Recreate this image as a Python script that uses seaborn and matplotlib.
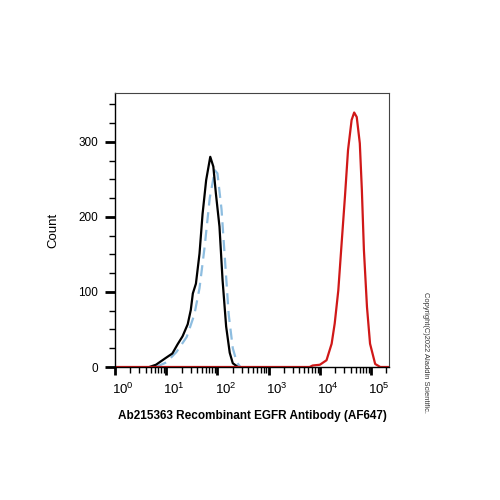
import numpy as np
import seaborn as sns
import matplotlib.pyplot as plt
import matplotlib.ticker as mticker
from matplotlib.transforms import ScaledTranslation

# curves, x as log10 of fluorescence, y as count
black_log = [0.67, 0.80, 0.99, 1.12, 1.22, 1.32, 1.42, 1.48, 1.52, 1.58, 1.65, 1.71, 1.78, 1.86,
             1.92, 1.97, 2.04, 2.10, 2.17, 2.24, 2.30, 2.40]
black_count = [0, 3, 12, 18, 30, 41, 57, 76, 98, 111, 151, 204, 249, 280,
               267, 231, 187, 116, 54, 19, 5, 0]

blue_log = [0.80, 1.00, 1.20, 1.40, 1.55, 1.65, 1.75, 1.85, 1.95, 2.00, 2.08, 2.15, 2.22, 2.30, 2.38, 2.45]
blue_count = [0, 6, 20, 40, 70, 105, 160, 225, 262, 258, 210, 140, 70, 25, 6, 0]

red_log = [0.0, 3.80, 3.86, 4.00, 4.13, 4.23, 4.29, 4.36, 4.42, 4.49, 4.55, 4.62, 4.67, 4.72,
           4.78, 4.82, 4.86, 4.92, 4.98, 5.08, 5.18, 5.35]
red_count = [0, 0, 2, 3, 9, 31, 58, 102, 160, 227, 289, 329, 339, 333,
             298, 236, 156, 80, 31, 4, 0, 0]

plt.rcParams['font.family'] = ['Liberation Sans', 'DejaVu Sans']
plt.rcParams['mathtext.fontset'] = 'custom'
plt.rcParams['mathtext.rm'] = 'Liberation Sans'

fig = plt.figure(figsize=(5, 5), dpi=100)
ax = fig.add_axes([0.23, 0.266, 0.548, 0.548])

sns.lineplot(x=10 ** np.array(blue_log), y=blue_count, sort=False, ax=ax,
             color="#8dbde0", linewidth=1.6, linestyle=(0, (5, 3)))
sns.lineplot(x=10 ** np.array(black_log), y=black_count, sort=False, ax=ax,
             color="black", linewidth=1.6)
sns.lineplot(x=10 ** np.array(red_log), y=red_count, sort=False, ax=ax,
             color="#d01818", linewidth=1.6)
for line in ax.get_lines():
    line.set_solid_joinstyle('round')
    line.set_dash_joinstyle('round')

ax.set_xscale('log')
ax.set_xlim(1, 10 ** 5.35)
ax.set_ylim(0, 365)

ax.xaxis.set_minor_locator(mticker.LogLocator(base=10, subs=np.arange(2, 10), numticks=50))
ax.xaxis.set_minor_formatter(mticker.NullFormatter())
ax.set_xticks([1, 10, 100, 1000, 10000, 100000])
ax.set_xticklabels([r'$10^{%d}$' % i for i in range(6)])

ax.set_yticks([0, 100, 200, 300])
ax.yaxis.set_minor_locator(mticker.MultipleLocator(25))

ax.tick_params(axis='x', which='major', length=6, width=2, labelsize=9.5, pad=5)
ax.tick_params(axis='x', which='minor', length=4, width=1)
ax.tick_params(axis='y', which='major', length=7, width=2, labelsize=8.5, pad=5)
ax.tick_params(axis='y', which='minor', length=4, width=1)

# shift x tick labels a little right like the reference
for lab in ax.get_xticklabels():
    lab.set_transform(lab.get_transform() + ScaledTranslation(8 / 100, 0, fig.dpi_scale_trans))

for side in ['top', 'right']:
    ax.spines[side].set_linewidth(0.8)
    ax.spines[side].set_color('#444444')
for side in ['left', 'bottom']:
    ax.spines[side].set_linewidth(1.0)

ax.set_xlabel('Ab215363 Recombinant EGFR Antibody (AF647)', fontsize=8.5, fontweight='bold', labelpad=9)
ax.set_ylabel('Count', fontsize=9.5, labelpad=14)

fig.text(0.85, 0.296, 'Copyright(C)2022 Aladdin Scientific.', rotation=-90, fontsize=5.4,
         ha='center', va='center', color='#333333')

plt.savefig('out.png', dpi=100)
plt.close()
